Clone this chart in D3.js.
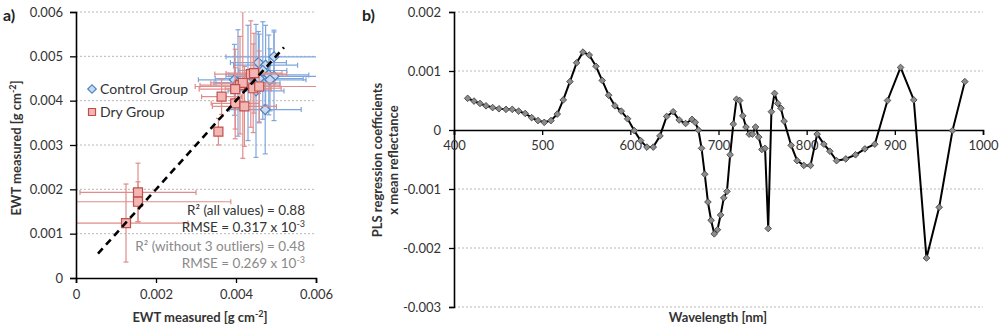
<!DOCTYPE html>
<html><head><meta charset="utf-8">
<script src="https://cdn.jsdelivr.net/npm/d3@7"></script>
<style>
body{margin:0;background:#fff}
svg{font-family:Lato,'Open Sans',sans-serif}
</style>
</head><body>
<svg id="c" width="1000" height="331"></svg>
<script>
// ---------- Panel a data ----------
const controlX    = [0.00396,0.00405,0.00456,0.00474,0.00495,0.00467,0.00482,0.00495,0.00485,0.00458,0.00450,0.00473,0.00430];
const controlY    = [0.00447,0.00440,0.00486,0.00480,0.00499,0.00468,0.00458,0.00455,0.00447,0.00450,0.00422,0.00380,0.00440];
const controlXErr = [0.0009,0.0006,0.0007,0.0008,0.0012,0.0006,0.0010,0.0012,0.0009,0.0011,0.0007,0.0009,0.0008];
const controlYErr = [0.0008,0.0012,0.0007,0.0009,0.0006,0.0011,0.0009,0.0010,0.0007,0.0010,0.0015,0.0010,0.0013];

const dryX    = [0.00437,0.00445,0.00410,0.00417,0.00398,0.00443,0.00458,0.00364,0.00398,0.00421,0.00356,0.00155,0.00155,0.00125];
const dryY    = [0.00460,0.00462,0.00435,0.00440,0.00426,0.00428,0.00432,0.00409,0.00394,0.00387,0.00330,0.00193,0.00172,0.00124];
const dryXErr = [0.0009,0.0007,0.0010,0.0008,0.0009,0.0007,0.0016,0.0005,0.0006,0.0008,0.0000,0.00145,0.00232,0.00155];
const dryYErr = [0.0012,0.0009,0.0011,0.0017,0.0009,0.0010,0.0008,0.0004,0.0008,0.0009,0.0003,0.00066,0.00045,0.00088];

const oneToOne = [0.00055, 0.0052];
const aTicks = [0,0.001,0.002,0.003,0.004,0.005,0.006];
const aYTickLabels = ["0","0.001","0.002","0.003","0.004","0.005","0.006"];
const aXTicks = [0,0.002,0.004,0.006];
const aXTickLabels = ["0","0.002","0.004","0.006"];

// ---------- Panel b data ----------
const wavelength = [415.5,422.7,429.5,436.3,443.8,451,459,466.1,473.3,480.8,488.1,495.2,502.4,510,517.1,523.9,531.5,539.1,546.3,553.4,561,568.1,575.4,582.5,589.7,596.9,604.4,611.7,618.8,626,633.6,641.2,648.6,655.4,662.7,
  670,673.6,677.2,680.8,684.4,688,691.6,695.2,698.8,702.4,706,709.6,713.2,716.8,720.4,724,727.6,731.2,734.8,738.4,742,745.6,749.2,752.8,756.4,760,763.6,767.2,770.8,774.4,
  782.4,789.2,796.8,804.4,811.9,819.5,826.3,833.9,844.4,855.4,866,877.3,891.7,906.5,921.5,935.9,950.3,965.4,979.4];
const plsCoef = [0.000537,0.00049,0.00045,0.00041,0.00038,0.00036,0.00035,0.00035,0.00032,0.00028,0.00021,0.00016,0.00013,0.00016,0.00027,0.00051,0.00082,0.00114,0.00132,0.00127,0.00108,0.00084,0.00059,0.00041,0.00032,0.00019,-0.00001,-0.00018,-0.00029,-0.00029,-0.0001,0.00023,0.00031,0.00017,0.00011,
  0.00018,0.00013,0.0,-0.00031,-0.00075,-0.00122,-0.00153,-0.00176,-0.00169,-0.00144,-0.00115,-0.00104,-0.00042,0.0001,0.00052,0.0005,0.00024,0.00005,-0.00007,-0.00007,0.00005,-0.00012,-0.00033,-0.00031,-0.00167,0.00031,0.00062,0.00045,0.00037,0.00015,
  -0.00026,-0.00052,-0.0006,-0.0006,-0.00007,-0.00024,-0.00036,-0.00052,-0.00049,-0.00042,-0.00032,-0.00024,0.0005,0.00106,0.00051,-0.00217,-0.00131,-0.00001,0.00082];
const bYTicks = [0.002,0.001,0,-0.001,-0.002,-0.003];
const bYTickLabels = ["0.002","0.001","0","-0.001","-0.002","-0.003"];
const bXTicks = [400,500,600,700,800,900,1000];
const bXTickLabels = ["400","500","600","700","800","900","1000"];

const svg = d3.select('#c');
const txt = '#333';

function styleAxis(g){
  g.select('.domain').attr('stroke','#000').attr('stroke-width',1.6);
  g.selectAll('.tick line').attr('stroke','#000').attr('stroke-width',1.3);
  g.selectAll('.tick text').attr('fill',txt).attr('font-size',13).attr('font-family','Lato,sans-serif');
}

// ================= Panel a =================
const xA = d3.scaleLinear().domain([0,0.006]).range([76,316]);
const yA = d3.scaleLinear().domain([0,0.006]).range([278,12]);

svg.append('defs').append('clipPath').attr('id','clipA')
  .append('rect').attr('x',xA(0)).attr('y',yA(0.006)).attr('width',xA(0.006)-xA(0)).attr('height',yA(0)-yA(0.006));

// gridlines
svg.append('g').selectAll('line').data(aTicks.filter(d=>d>0)).join('line')
  .attr('x1',xA(0)).attr('x2',xA(0.006)).attr('y1',d=>yA(d)).attr('y2',d=>yA(d))
  .attr('stroke','#b8b8b8').attr('stroke-width',1).attr('stroke-dasharray','2,2');

function drawBars(xs,ys,xe,ye,color){
  const g = svg.append('g').attr('clip-path','url(#clipA)').attr('stroke',color).attr('stroke-width',1.2);
  xs.forEach((x,i)=>{
    const y = ys[i], cx = xe[i], cy = ye[i];
    if(cx>0){
      g.append('line').attr('x1',xA(x-cx)).attr('x2',xA(x+cx)).attr('y1',yA(y)).attr('y2',yA(y));
      [x-cx,x+cx].forEach(v=>g.append('line').attr('x1',xA(v)).attr('x2',xA(v)).attr('y1',yA(y)-2.5).attr('y2',yA(y)+2.5));
    }
    if(cy>0){
      g.append('line').attr('x1',xA(x)).attr('x2',xA(x)).attr('y1',yA(y-cy)).attr('y2',yA(y+cy));
      [y-cy,y+cy].forEach(v=>g.append('line').attr('x1',xA(x)-2.5).attr('x2',xA(x)+2.5).attr('y1',yA(v)).attr('y2',yA(v)));
    }
  });
}
function drawMarkers(xs,ys,rot,size,fill,stroke){
  svg.append('g').selectAll('path').data(xs.map((x,i)=>[x,ys[i]])).join('path')
    .attr('d',d3.symbol(d3.symbolSquare,size))
    .attr('transform',d=>`translate(${xA(d[0])},${yA(d[1])}) rotate(${rot})`)
    .attr('fill',fill).attr('stroke',stroke).attr('stroke-width',1.2);
}

const blueBar='#7ea6dc', redBar='#e08c8a';
drawBars(controlX,controlY,controlXErr,controlYErr,blueBar);
drawMarkers(controlX,controlY,45,50,'#c6d9f1','#4f81bd');
drawBars(dryX,dryY,dryXErr,dryYErr,redBar);
drawMarkers(dryX,dryY,0,81,'#f2b6b4','#c0504d');

// 1:1 line
svg.append('line').attr('x1',xA(oneToOne[0])).attr('y1',yA(oneToOne[0]))
  .attr('x2',xA(oneToOne[1])).attr('y2',yA(oneToOne[1]))
  .attr('stroke','#000').attr('stroke-width',2.6).attr('stroke-dasharray','7,5');

// axes
svg.append('g').attr('transform',`translate(${xA(0)},0)`)
  .call(d3.axisLeft(yA).tickValues(aTicks).tickFormat((d,i)=>aYTickLabels[i]).tickSizeOuter(0).tickSize(6).tickPadding(7))
  .call(styleAxis);
svg.append('g').attr('transform',`translate(0,${yA(0)})`)
  .call(d3.axisBottom(xA).tickValues(aXTicks).tickFormat((d,i)=>aXTickLabels[i]).tickSizeOuter(0).tickSize(5).tickPadding(7))
  .call(styleAxis);

// legend
const lg = svg.append('g');
lg.append('path').attr('d',d3.symbol(d3.symbolSquare,36)).attr('transform','translate(92,89) rotate(45)')
  .attr('fill','#c6d9f1').attr('stroke','#4f81bd').attr('stroke-width',1.2);
lg.append('text').attr('x',100).attr('y',94).attr('font-size',14).attr('fill',txt).text('Control Group');
lg.append('path').attr('d',d3.symbol(d3.symbolSquare,49)).attr('transform','translate(92,112)')
  .attr('fill','#f2b6b4').attr('stroke','#c0504d').attr('stroke-width',1.2);
lg.append('text').attr('x',100).attr('y',117).attr('font-size',14).attr('fill',txt).text('Dry Group');

// stats text
function stat(y,color,main,sup,tail){
  const t = svg.append('text').attr('x',305).attr('y',y).attr('text-anchor','end').attr('font-size',13.5).attr('fill',color);
  t.append('tspan').text(main);
  if(sup){ t.append('tspan').attr('dy',-5).attr('font-size',9).text(sup); }
  return t;
}
stat(215,txt,'R² (all values) = 0.88');
stat(232,txt,'RMSE = 0.317 x 10','-3');
stat(251,'#8a8a8a','R² (without 3 outliers) = 0.48');
stat(268,'#8a8a8a','RMSE = 0.269 x 10','-3');

// titles
function unitTitle(sel){
  sel.append('tspan').text('EWT measured [g cm');
  sel.append('tspan').attr('dy',-5).attr('font-size',9).text('-2');
  sel.append('tspan').attr('dy',5).text(']');
}
svg.append('text').attr('x',200).attr('y',322).attr('text-anchor','middle')
  .attr('font-size',13).attr('font-weight','bold').attr('fill',txt).call(unitTitle);
svg.append('text').attr('transform','translate(21,148) rotate(-90)').attr('text-anchor','middle')
  .attr('font-size',13).attr('font-weight','bold').attr('fill',txt).call(unitTitle);
svg.append('text').attr('x',3).attr('y',21).attr('font-size',16).attr('font-weight','bold').attr('fill','#222').text('a)');

// ================= Panel b =================
const xB = d3.scaleLinear().domain([400,1000]).range([454,983]);
const yB = d3.scaleLinear().domain([-0.003,0.002]).range([307,12]);

svg.append('g').selectAll('line').data(bYTicks.filter(d=>d!==0)).join('line')
  .attr('x1',xB(400)).attr('x2',xB(1000)).attr('y1',d=>yB(d)).attr('y2',d=>yB(d))
  .attr('stroke','#b8b8b8').attr('stroke-width',1).attr('stroke-dasharray','2,2');

svg.append('g').attr('transform',`translate(${xB(400)},0)`)
  .call(d3.axisLeft(yB).tickValues(bYTicks).tickFormat((d,i)=>bYTickLabels[i]).tickSizeOuter(0).tickSize(5).tickPadding(8))
  .call(styleAxis);
svg.append('g').attr('transform',`translate(0,${yB(0)})`)
  .call(d3.axisBottom(xB).tickValues(bXTicks).tickFormat((d,i)=>bXTickLabels[i]).tickSizeOuter(0).tickSize(5).tickPadding(6))
  .call(styleAxis);

const pts = wavelength.map((w,i)=>[w,plsCoef[i]]);
svg.append('path').datum(pts)
  .attr('d',d3.line().x(d=>xB(d[0])).y(d=>yB(d[1])))
  .attr('fill','none').attr('stroke','#000').attr('stroke-width',2).attr('stroke-linejoin','round');
svg.append('g').selectAll('path').data(pts).join('path')
  .attr('d',d3.symbol(d3.symbolSquare,22))
  .attr('transform',d=>`translate(${xB(d[0])},${yB(d[1])}) rotate(45)`)
  .attr('fill','#8c8c8c').attr('stroke','#404040').attr('stroke-width',0.8);

svg.append('text').attr('x',718).attr('y',322).attr('text-anchor','middle')
  .attr('font-size',13).attr('font-weight','bold').attr('fill',txt).text('Wavelength [nm]');
const yt = svg.append('text').attr('transform','translate(0,160) rotate(-90)').attr('text-anchor','middle')
  .attr('font-size',13).attr('font-weight','bold').attr('fill',txt);
yt.append('tspan').attr('x',0).attr('y',382).text('PLS regression coefficients');
yt.append('tspan').attr('x',0).attr('y',398).text('x mean reflectance');
svg.append('text').attr('x',362).attr('y',21).attr('font-size',16).attr('font-weight','bold').attr('fill','#222').text('b)');
</script>
</body></html>
